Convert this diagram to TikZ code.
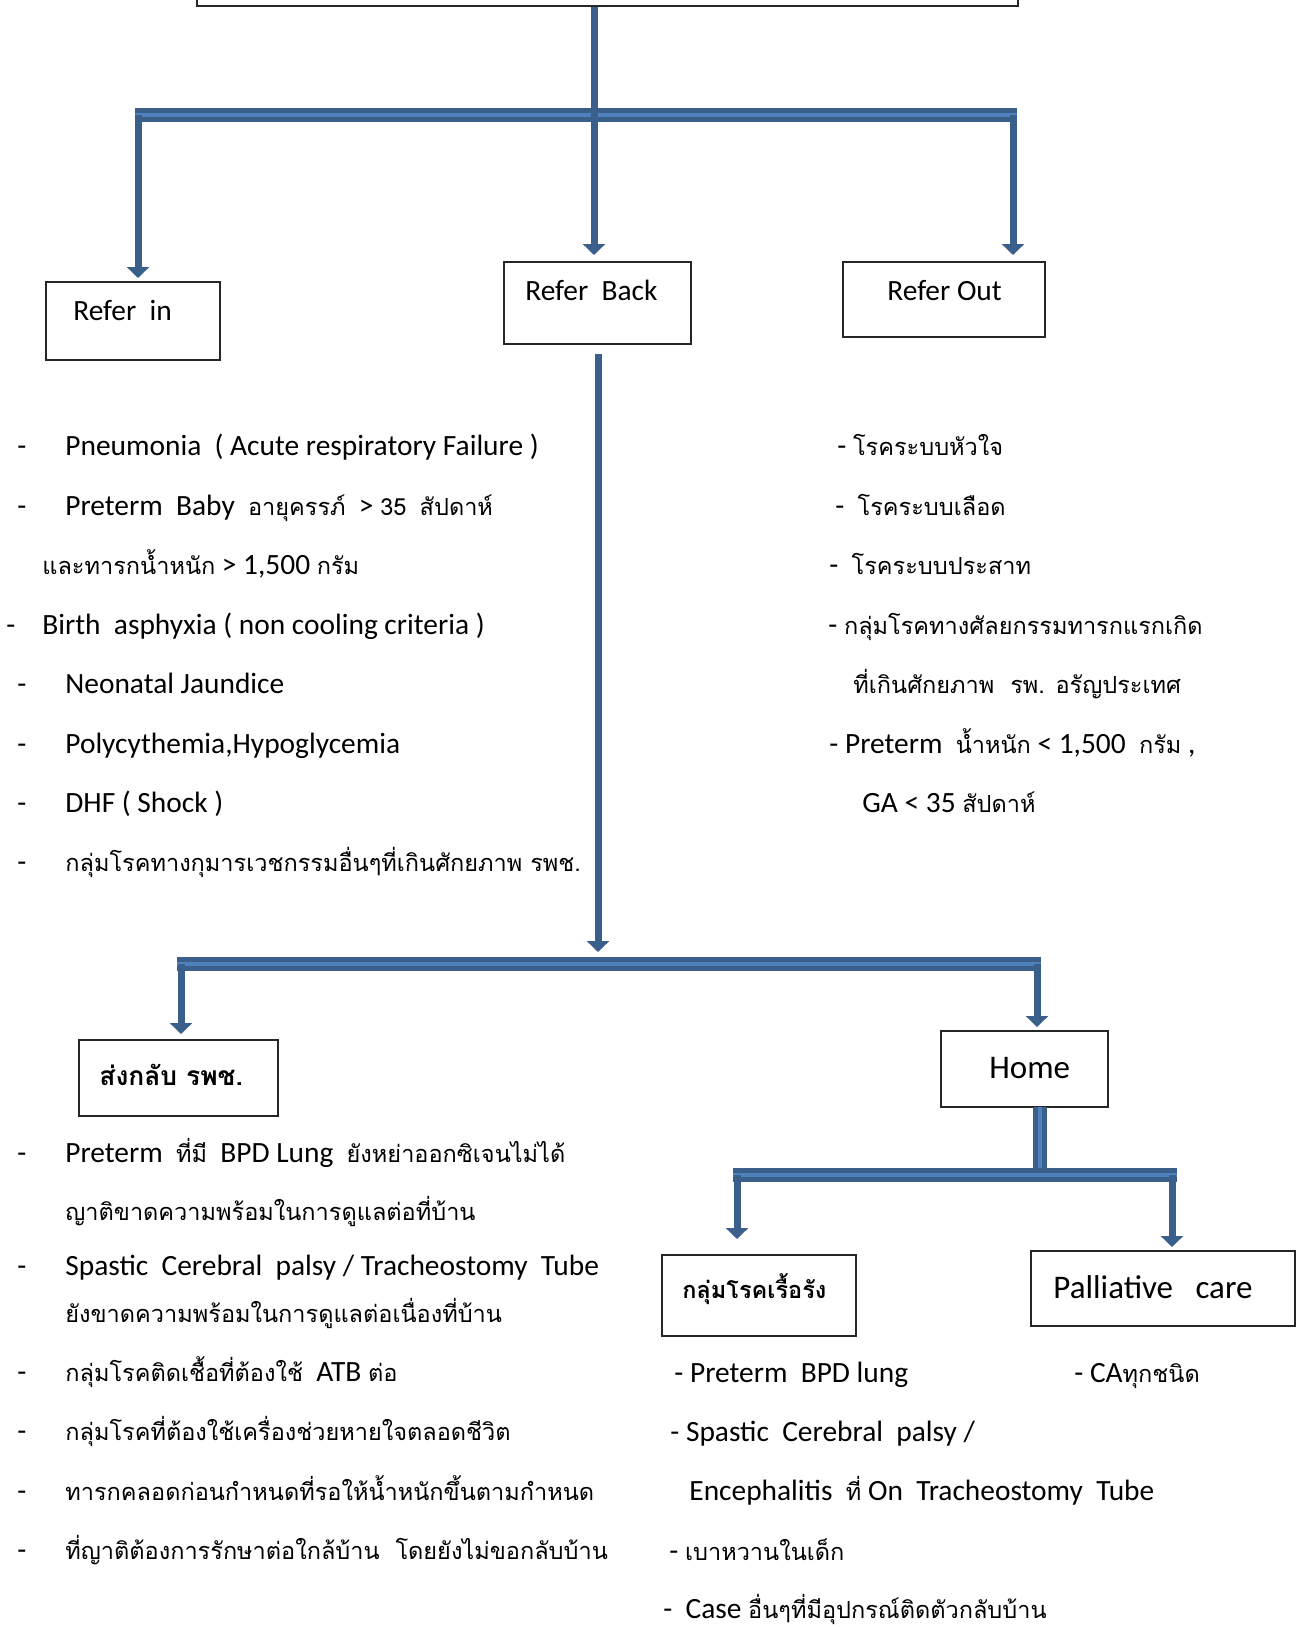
\documentclass[tikz,border=0pt]{standalone}
\usepackage{fontspec}
\setmainfont{Carlito}
\newfontfamily\thai[Script=Thai,Scale=0.8]{Loma}
\usetikzlibrary{arrows.meta,fit}
\definecolor{bdark}{HTML}{3A5F8B}
\definecolor{blight}{HTML}{4F81BD}
\begin{document}
\begin{tikzpicture}[x=0.5pt,y=-0.5pt,
 box/.style={draw=black!85, line width=0.8pt, inner sep=0pt},
 txt/.style={anchor=base west, inner sep=0pt, font=\fontsize{14.7}{17}\selectfont},
 big/.style={anchor=base west, inner sep=0pt, font=\fontsize{16.5}{20}\selectfont},
 arr/.style={draw=bdark, line width=3.5pt, -{Triangle[width=11pt,length=5.5pt]}},
 barout/.style={draw=bdark, line width=7pt},
 barin/.style={draw=blight, line width=2pt}]
\useasboundingbox (0,0) rectangle (1301,1627);
% boxes
\node[box, fit={(197,-20) (1018,6)}] (top) {};
\node[box, fit={(46,282) (220,360)}] (referin) {};
\node[box, fit={(504,262) (691,344)}] (referback) {};
\node[box, fit={(843,262) (1045,337)}] (referout) {};
\node[box, fit={(79,1040) (278,1116)}] (sendback) {};
\node[box, fit={(941,1031) (1108,1107)}] (home) {};
\node[box, fit={(662,1255) (856,1336)}] (chronic) {};
\node[box, fit={(1031,1251) (1295,1326)}] (palli) {};
% box texts
\node[txt] (t-in) at (73,320) {Refer\ \ in};
\node[txt] (t-back) at (525,300) {Refer\ \ Back};
\node[txt] (t-out) at (887,300) {Refer Out};
\node[big] (t-send) at (99,1085) {\thai\bfseries ส่งกลับ\ รพช.};
\node[big] (t-home) at (989,1078) {Home};
\node[txt] (t-chronic) at (682,1298) {\thai\bfseries กลุ่มโรคเรื้อรัง};
\node[big] (t-palli) at (1053,1298) {Palliative\ \ \ care};
% coordinates
\coordinate (s1) at (594,6);
\coordinate (b1l) at (135,115); \coordinate (b1r) at (1017,115);
\coordinate (a1l) at (138,115); \coordinate (a1lt) at (138,278);
\coordinate (a1m) at (594,255);
\coordinate (a1r) at (1013,115); \coordinate (a1rt) at (1013,255);
\coordinate (s2) at (598,354); \coordinate (s2t) at (598,952);
\coordinate (b2l) at (177,964); \coordinate (b2r) at (1041,964);
\coordinate (a2l) at (181,964); \coordinate (a2lt) at (181,1034);
\coordinate (a2r) at (1037,964); \coordinate (a2rt) at (1037,1027);
\coordinate (h1) at (1040,1107); \coordinate (h2) at (1040,1175);
\coordinate (b3l) at (733,1175); \coordinate (b3r) at (1177,1175);
\coordinate (a3l) at (737,1175); \coordinate (a3lt) at (737,1239);
\coordinate (a3r) at (1172,1175); \coordinate (a3rt) at (1172,1247);
% bars
\draw[barout] (b1l) -- (b1r); \draw[barin] (b1l) -- (b1r);
\draw[barout] (b2l) -- (b2r); \draw[barin] (b2l) -- (b2r);
\draw[barout] (h1) -- (h2); \draw[barin] (h1) -- (h2);
\draw[barout] (b3l) -- (b3r); \draw[barin] (b3l) -- (b3r);
% arrows
\draw[arr] (top.south -| s1) -- (a1m);
\draw[arr] (a1l) -- (a1lt);
\draw[arr] (a1r) -- (a1rt);
\draw[arr] (s2) -- (s2t);
\draw[arr] (a2l) -- (a2lt);
\draw[arr] (a2r) -- (a2rt);
\draw[arr] (a3l) -- (a3lt);
\draw[arr] (a3r) -- (a3rt);
% left list
\foreach \yy/\nm in {455/1,515/2,693/5,753/6,812/7,871/8}{\node[txt] (dl\nm) at (17,\yy) {-};}
\node[txt] (dl4) at (6,634) {-};
\node[txt] (l1) at (65,455) {Pneumonia\ \ ( Acute respiratory Failure )};
\node[txt] (l2) at (65,515) {Preterm\ \ Baby\ \ {\thai อายุครรภ์}\ \ > {\thai 35}\ \ {\thai สัปดาห์}};
\node[txt] (l3) at (42,574) {{\thai และทารกน้ำหนัก} > 1,500 {\thai กรัม}};
\node[txt] (l4) at (42,634) {Birth\ \ asphyxia ( non cooling criteria )};
\node[txt] (l5) at (65,693) {Neonatal Jaundice};
\node[txt] (l6) at (65,753) {Polycythemia,Hypoglycemia};
\node[txt] (l7) at (65,812) {DHF ( Shock )};
\node[txt] (l8) at (65,871) {\thai กลุ่มโรคทางกุมารเวชกรรมอื่นๆที่เกินศักยภาพ รพช.};
% right list
\node[txt] (r1) at (837,455) {- {\thai โรคระบบหัวใจ}};
\node[txt] (r2) at (835,515) {-\ \ {\thai โรคระบบเลือด}};
\node[txt] (r3) at (829,574) {-\ \ {\thai โรคระบบประสาท}};
\node[txt] (r4) at (828,634) {- {\thai กลุ่มโรคทางศัลยกรรมทารกแรกเกิด}};
\node[txt] (r5) at (853,693) {\thai ที่เกินศักยภาพ\ \ รพ. อรัญประเทศ};
\node[txt] (r6) at (829,753) {- Preterm\ \ {\thai น้ำหนัก} < 1,500\ \ {\thai กรัม} ,};
\node[txt] (r7) at (862,812) {GA < 35 {\thai สัปดาห์}};
% bottom left list
\foreach \yy/\nm in {1162/1,1275/3,1381/5,1440/6,1500/7,1559/8}{\node[txt] (db\nm) at (17,\yy) {-};}
\node[txt] (k1) at (65,1162) {Preterm\ \ {\thai ที่มี}\ \ BPD Lung\ \ {\thai ยังหย่าออกซิเจนไม่ได้}};
\node[txt] (k2) at (65,1220) {\thai ญาติขาดความพร้อมในการดูแลต่อที่บ้าน};
\node[txt] (k3) at (65,1275) {Spastic\ \ Cerebral\ \ palsy / Tracheostomy\ \ Tube};
\node[txt] (k4) at (65,1322) {\thai ยังขาดความพร้อมในการดูแลต่อเนื่องที่บ้าน};
\node[txt] (k5) at (65,1381) {{\thai กลุ่มโรคติดเชื้อที่ต้องใช้}\ \ ATB {\thai ต่อ}};
\node[txt] (k6) at (65,1440) {\thai กลุ่มโรคที่ต้องใช้เครื่องช่วยหายใจตลอดชีวิต};
\node[txt] (k7) at (65,1500) {\thai ทารกคลอดก่อนกำหนดที่รอให้น้ำหนักขึ้นตามกำหนด};
\node[txt] (k8) at (65,1559) {\thai ที่ญาติต้องการรักษาต่อใกล้บ้าน\ \ โดยยังไม่ขอกลับบ้าน};
% bottom right list
\node[txt] (c1) at (674,1382) {- Preterm\ \ BPD lung};
\node[txt] (c2) at (670,1441) {- Spastic\ \ Cerebral\ \ palsy /};
\node[txt] (c3) at (689,1500) {Encephalitis\ \ {\thai ที่} On\ \ Tracheostomy\ \ Tube};
\node[txt] (c4) at (669,1560) {- {\thai เบาหวานในเด็ก}};
\node[txt] (c5) at (663,1618) {-\ \ Case {\thai อื่นๆที่มีอุปกรณ์ติดตัวกลับบ้าน}};
\node[txt] (c6) at (1074,1382) {- CA{\thai ทุกชนิด}};
\end{tikzpicture}
\end{document}
